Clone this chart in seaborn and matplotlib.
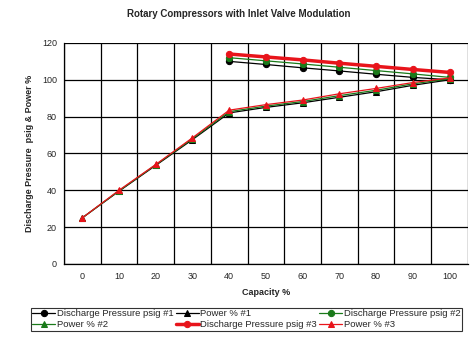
import numpy as np
import pandas as pd
import seaborn as sns
from matplotlib import pyplot as plt
from matplotlib.ticker import FixedLocator

capacity = [0, 10, 20, 30, 40, 50, 60, 70, 80, 90, 100]
nan = np.nan
pressure_1 = [nan, nan, nan, nan, 110, 108.3, 106.5, 104.8, 103, 101.3, 100]
power_1 = [25, 39.5, 53.5, 67.5, 82, 85, 87.5, 90.5, 93.5, 97, 100]
pressure_2 = [nan, nan, nan, nan, 112, 110.3, 108.6, 106.8, 105, 103.2, 101.3]
power_2 = [25, 39.7, 53.8, 68, 82.7, 85.7, 88.2, 91.4, 94.3, 97.8, 100.5]
pressure_3 = [nan, nan, nan, nan, 114, 112.4, 110.8, 109, 107.3, 105.6, 104]
power_3 = [25, 40, 54, 68.5, 83.5, 86.5, 89, 92.4, 95.3, 98.5, 101]

series = [
    ("Discharge Pressure psig #1", pressure_1, "black", "o", 0.9),
    ("Power % #1", power_1, "black", "^", 0.9),
    ("Discharge Pressure psig #2", pressure_2, "#1a7a1a", "o", 0.9),
    ("Power % #2", power_2, "#1a7a1a", "^", 0.9),
    ("Discharge Pressure psig #3", pressure_3, "#e8141b", "o", 2.5),
    ("Power % #3", power_3, "#e8141b", "^", 0.9),
]

sns.set_style("white")
plt.rcParams['font.family'] = ['Liberation Sans', 'DejaVu Sans']

fig = plt.figure(figsize=(4.77, 3.61), dpi=100)
ax = fig.add_axes([0.134, 0.269, 0.847, 0.612])

for name, vals, color, marker, lw in series:
    df = pd.DataFrame({"capacity": capacity, "value": vals}).dropna()
    sns.lineplot(data=df, x="capacity", y="value", ax=ax, color=color,
                 marker=marker, markersize=4.5, markeredgecolor=color,
                 linewidth=lw, label=name)

h, l = ax.get_legend_handles_labels()
# matplotlib fills legend columns first; reorder to get row-wise order
order = [0, 3, 1, 4, 2, 5]
ax.legend([h[i] for i in order], [l[i] for i in order], ncol=3,
          loc="upper center", bbox_to_anchor=(0.452, -0.198), fontsize=6.8,
          frameon=True, fancybox=False, edgecolor="black", borderpad=0.15,
          handlelength=2.4, handletextpad=0.2, columnspacing=0.25,
          labelspacing=0.25, borderaxespad=0)
ax.get_legend().get_frame().set_linewidth(0.8)

ax.set_xlim(-5, 105)
ax.set_ylim(0, 120)
ax.set_xticks(capacity)
ax.xaxis.set_minor_locator(FixedLocator(np.arange(-5, 106, 10)))
ax.set_yticks(np.arange(0, 121, 20))
ax.tick_params(axis="x", which="major", length=0, labelsize=6.5, pad=6)
ax.tick_params(axis="x", which="minor", length=3, width=0.9, color="black", direction="out")
ax.tick_params(axis="y", length=3, width=0.9, color="black", direction="out", labelsize=6.5, pad=2)
ax.grid(True, axis="y", which="major", color="black", linewidth=0.9)
ax.grid(True, axis="x", which="minor", color="black", linewidth=0.9)
ax.set_axisbelow(True)

for side in ["top", "right"]:
    ax.spines[side].set_visible(False)
for side in ["left", "bottom"]:
    ax.spines[side].set_color("black")
    ax.spines[side].set_linewidth(0.9)

ax.set_xlabel("Capacity %", fontsize=6.5, fontweight="bold", labelpad=5)
ax.set_ylabel("Discharge Pressure  psig & Power %", fontsize=6.5, fontweight="bold", labelpad=6)
fig.suptitle("Rotary Compressors with Inlet Valve Modulation", fontsize=7,
             fontweight="bold", y=0.975)

fig.savefig("out.png", dpi=100)
